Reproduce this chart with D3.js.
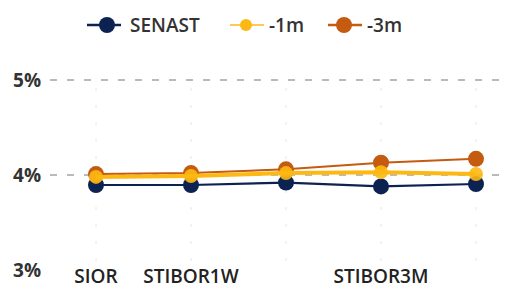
<!DOCTYPE html>
<html><head><meta charset="utf-8">
<script src="https://cdn.jsdelivr.net/npm/d3@7"></script>
<style>body{margin:0;background:#fff}svg{display:block}text{font-family:"Open Sans",sans-serif}</style>
</head><body><svg id="c" width="513" height="289"></svg>
<script>
const categories = ["SIOR","STIBOR1W","STIBOR1M","STIBOR3M","STIBOR6M"];
const shownLabels = ["SIOR","STIBOR1W","STIBOR3M"];
const senast = [3.895, 3.895, 3.92, 3.88, 3.905];
const m1 = [3.98, 3.99, 4.02, 4.03, 4.01];
const m3 = [4.01, 4.02, 4.06, 4.13, 4.17];
const yTicks = [3, 4, 5];
const seriesNames = ["SENAST","-1m","-3m"];
const colors = {"SENAST":"#0c2352","-1m":"#fdb913","-3m":"#c55a11"};

const svg = d3.select("#c");
const x = d3.scalePoint().domain(categories).range([96, 476]);
const y = d3.scaleLinear().domain([3,5]).range([270, 80]);

// grid
svg.append("g").selectAll("line").data(yTicks.filter(t=>t>3)).join("line")
  .attr("x1",50).attr("x2",505).attr("y1",d=>y(d)).attr("y2",d=>y(d))
  .attr("stroke","#777").attr("stroke-width",1.2).attr("stroke-dasharray","7,10");
svg.append("g").selectAll("line").data(categories).join("line")
  .attr("x1",d=>x(d)).attr("x2",d=>x(d)).attr("y1",y(5)+8).attr("y2",y(3)-2)
  .attr("stroke","#e6e6e6").attr("stroke-width",1).attr("stroke-dasharray","3,14");

// y labels
svg.append("g").selectAll("text").data(yTicks).join("text")
  .attr("x",41).attr("y",d=>y(d)).attr("dy","0.36em").attr("text-anchor","end")
  .attr("font-size",19).attr("font-weight",700).attr("fill","#333").text(d=>d+"%");
// x labels
svg.append("g").selectAll("text").data(shownLabels).join("text")
  .attr("x",d=>x(d)).attr("y",283).attr("text-anchor","middle")
  .attr("font-size",19).attr("font-weight",600).attr("fill","#222").text(d=>d);

const data = {"SENAST":senast,"-1m":m1,"-3m":m3};
const line = d3.line().x((d,i)=>x(categories[i])).y(d=>y(d));
const widths = {"SENAST":2.2,"-1m":4,"-3m":2};
const radii = {"SENAST":8,"-1m":7,"-3m":8};
["SENAST","-3m","-1m"].forEach(name=>{
  const g = svg.append("g");
  g.append("path").datum(data[name]).attr("d",line).attr("fill","none")
   .attr("stroke",colors[name]).attr("stroke-width",widths[name]);
  g.selectAll("circle").data(data[name]).join("circle")
   .attr("cx",(d,i)=>x(categories[i])).attr("cy",d=>y(d)).attr("r",radii[name])
   .attr("fill",colors[name]).attr("opacity",name==="-1m"?0.9:1);
});

// legend
const legX = [87, 230, 328];
const lg = svg.append("g");
seriesNames.forEach((name,i)=>{
  const gx = legX[i];
  lg.append("line").attr("x1",gx).attr("x2",gx+34).attr("y1",25).attr("y2",25)
    .attr("stroke",colors[name]).attr("stroke-width",name==="-1m"?1.5:2.5);
  lg.append("circle").attr("cx",gx+(name==="SENAST"?20:16)).attr("cy",25).attr("r",name==="-1m"?6:8).attr("fill",colors[name]);
  lg.append("text").attr("x",gx+(name==="SENAST"?43:39)).attr("y",25).attr("dy","0.36em")
    .attr("font-size",19).attr("font-weight",600).attr("fill","#333").text(name);
});
</script></body></html>
